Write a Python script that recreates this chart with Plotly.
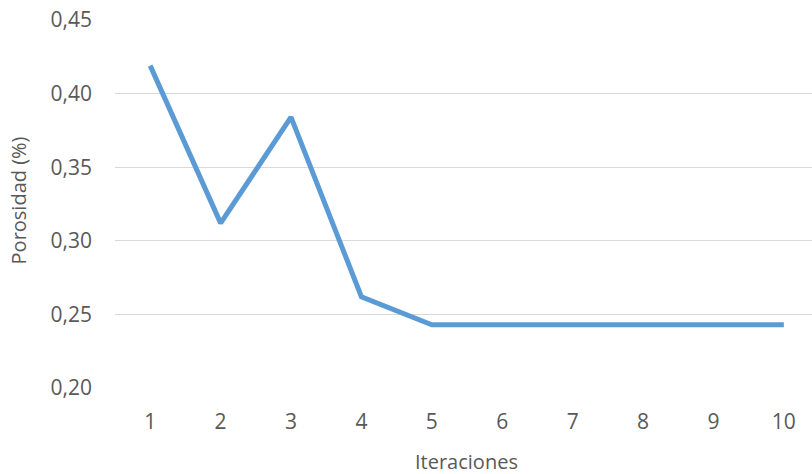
import plotly.graph_objects as go

# Porosity per iteration
iteraciones = [1, 2, 3, 4, 5, 6, 7, 8, 9, 10]
porosidad = [0.419, 0.312, 0.384, 0.262, 0.243, 0.243, 0.243, 0.243, 0.243, 0.243]
y_ticks = [0.20, 0.25, 0.30, 0.35, 0.40, 0.45]

FONT = "Open Sans"
TXT = "#595959"
W, H = 812, 474
ML, MT, MB = 115, 20, 86

fig = go.Figure(
    go.Scatter(
        x=iteraciones,
        y=porosidad,
        mode="lines",
        line=dict(color="#5B9BD5", width=5),
        hoverinfo="x+y",
    )
)

fig.update_layout(
    width=W,
    height=H,
    margin=dict(l=ML, r=0, t=MT, b=MB),
    paper_bgcolor="white",
    plot_bgcolor="white",
    separators=", ",
    showlegend=False,
    font=dict(family=FONT, size=21, color=TXT),
)

fig.update_xaxes(
    range=[0.5, 10.4],
    tickvals=iteraciones,
    ticktext=[str(v) for v in iteraciones],
    showgrid=False,
    zeroline=False,
    showline=False,
    ticks="",
    ticklabelstandoff=19,
    tickfont=dict(family=FONT, size=21, color=TXT),
)

fig.update_yaxes(
    range=[0.20, 0.45],
    tickvals=y_ticks,
    tickformat=".2f",
    showgrid=True,
    gridcolor="#D9D9D9",
    gridwidth=1.2,
    zeroline=False,
    showline=False,
    ticks="",
    ticklabelstandoff=22,
    tickfont=dict(family=FONT, size=21, color=TXT),
)

# axis titles
fig.add_annotation(
    text="Iteraciones", xref="paper", yref="paper",
    x=0.505, y=-0.2, xanchor="center", yanchor="middle",
    showarrow=False, font=dict(family=FONT, size=20, color=TXT),
)
fig.add_annotation(
    text="Porosidad (%)", xref="paper", yref="paper",
    x=-0.139, y=0.51, xanchor="center", yanchor="middle", textangle=-90,
    showarrow=False, font=dict(family=FONT, size=20, color=TXT),
)

fig.write_html("out.html")
